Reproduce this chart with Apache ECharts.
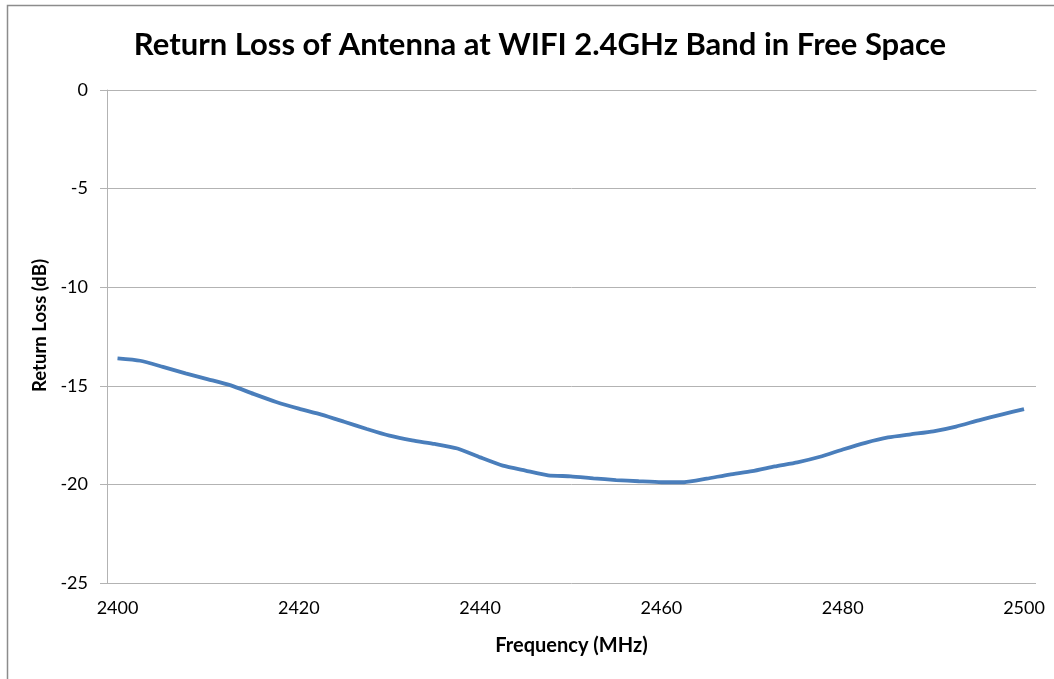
<!DOCTYPE html>
<html>
<head>
<meta charset="utf-8">
<script src="https://cdn.jsdelivr.net/npm/echarts@6/dist/echarts.min.js"></script>
<style>
  html, body { margin: 0; padding: 0; background: #ffffff; }
  #chart { width: 1054px; height: 679px; }
</style>
</head>
<body>
<div id="chart"></div>
<script>
// Frequency points (MHz)
const frequencies = [
  2400, 2402.5, 2405, 2407.5, 2410, 2412.5, 2415, 2417.5, 2420, 2422.5,
  2425, 2427.5, 2430, 2432.5, 2435, 2437.5, 2440, 2442.5, 2445, 2447.5,
  2450, 2452.5, 2455, 2457.5, 2460, 2462.5, 2465, 2467.5, 2470, 2472.5,
  2475, 2477.5, 2480, 2482.5, 2485, 2487.5, 2490, 2492.5, 2495, 2497.5, 2500
];
// Return loss (dB)
const returnLoss = [
  -13.61, -13.73, -14.04, -14.37, -14.67, -14.98, -15.41, -15.82, -16.16, -16.46,
  -16.82, -17.19, -17.53, -17.77, -17.95, -18.18, -18.63, -19.05, -19.30, -19.54,
  -19.59, -19.69, -19.78, -19.84, -19.89, -19.89, -19.71, -19.50, -19.33, -19.09,
  -18.88, -18.60, -18.23, -17.89, -17.62, -17.46, -17.31, -17.07, -16.75, -16.46,
  -16.18
];
// Tick labels
const xTickLabels = [2400, 2420, 2440, 2460, 2480, 2500];
const yMin = -25, yMax = 0, yStep = 5;

const seriesData = frequencies.map((f, i) => [f, returnLoss[i]]);

const gridColor = '#b3b3b3';
const chart = echarts.init(document.getElementById('chart'), null, { renderer: 'canvas' });
chart.setOption({
  animation: false,
  backgroundColor: '#ffffff',
  title: {
    text: 'Return Loss of Antenna at WIFI 2.4GHz Band in Free Space',
    left: 535,
    textAlign: 'center',
    top: 24,
    textStyle: { fontFamily: 'Lato', fontWeight: 'bold', fontSize: 31, color: '#000000' }
  },
  graphic: [{
    type: 'rect',
    shape: { x: 7.5, y: 5.5, width: 1200, height: 800 },
    style: { fill: 'none', stroke: '#8c8c8c', lineWidth: 1.5 },
    silent: true
  }],
  grid: { left: 107, right: 18, top: 90, bottom: 96 },
  xAxis: {
    type: 'value',
    min: 2398.84,
    max: 2501.32,
    name: 'Frequency (MHz)',
    nameLocation: 'middle',
    nameGap: 53,
    nameTextStyle: { fontFamily: 'Lato', fontWeight: 'bold', fontSize: 20, color: '#000000' },
    axisLine: { show: true, lineStyle: { color: gridColor, width: 1 } },
    axisTick: { show: false },
    splitLine: { show: false },
    axisLabel: {
      customValues: xTickLabels,
      formatter: v => String(v),
      fontFamily: 'Lato', fontSize: 18, color: '#000000', margin: 16
    }
  },
  yAxis: {
    type: 'value',
    min: yMin,
    max: yMax,
    interval: yStep,
    name: 'Return Loss (dB)',
    nameLocation: 'middle',
    nameGap: 44,
    nameRotate: 90,
    nameTextStyle: { fontFamily: 'Lato', fontWeight: 'bold', fontSize: 18.5, color: '#000000', padding: [0, 0, 0, 22] },
    axisLine: { show: true, lineStyle: { color: gridColor, width: 1 } },
    axisTick: { show: true, inside: false, length: 7, lineStyle: { color: gridColor, width: 1 } },
    splitLine: { show: true, lineStyle: { color: gridColor, width: 1 } },
    axisLabel: { fontFamily: 'Lato', fontSize: 18, color: '#000000', margin: 19 }
  },
  series: [{
    type: 'line',
    data: seriesData,
    showSymbol: false,
    smooth: 0.2,
    lineStyle: { color: '#4a7ebb', width: 3.8 },
    itemStyle: { color: '#4a7ebb' }
  }]
});
</script>
</body>
</html>
